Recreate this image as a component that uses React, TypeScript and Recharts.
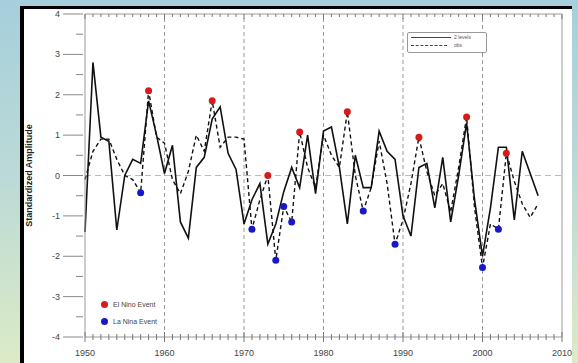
import {
  ComposedChart,
  Line,
  Scatter,
  XAxis,
  YAxis,
  ReferenceLine
} from 'recharts'

const years = [
  1950, 1951, 1952, 1953, 1954, 1955, 1956, 1957, 1958, 1959,
  1960, 1961, 1962, 1963, 1964, 1965, 1966, 1967, 1968, 1969,
  1970, 1971, 1972, 1973, 1974, 1975, 1976, 1977, 1978, 1979,
  1980, 1981, 1982, 1983, 1984, 1985, 1986, 1987, 1988, 1989,
  1990, 1991, 1992, 1993, 1994, 1995, 1996, 1997, 1998, 1999,
  2000, 2001, 2002, 2003, 2004, 2005, 2006, 2007
]

// solid line (model, 2 levels)
const solidValues = [
  -1.4, 2.8, 0.95, 0.85, -1.35, 0.0, 0.4, 0.3, 1.85, 1.0,
  0.05, 0.75, -1.15, -1.55, 0.2, 0.45, 1.4, 1.7, 0.55, 0.15,
  -1.2, -0.6, -0.2, -1.7, -1.2, -0.4, 0.2, -0.3, 1.0, -0.45,
  1.1, 1.2, 0.2, -1.2, 0.5, -0.3, -0.3, 1.1, 0.6, 0.4,
  -1.0, -1.5, 0.2, 0.3, -0.8, 0.45, -1.15, 0.0, 1.3, -0.6,
  -2.0, -0.8, 0.7, 0.7, -1.1, 0.6, 0.05, -0.5
]

// dashed line (observed)
const dashedValues = [
  -0.1, 0.6, 0.9, 0.9, 0.4, 0.0, -0.1, -0.43, 2.1, 0.95,
  0.8, -0.1, -0.45, 0.1, 1.0, 0.6, 1.85, 0.7, 0.95, 0.95,
  0.9, -1.33, -0.6, 0.0, -2.1, -0.77, -1.15, 1.08, 0.2, -0.3,
  1.0, 0.5, 0.2, 1.58, 0.0, -0.88, -0.3, 0.85, -0.2, -1.7,
  -1.1, -0.2, 0.95, 0.1, -0.5, -0.2, -0.9, 0.2, 1.45, -0.8,
  -2.28, -1.2, -1.33, 0.55, -0.14, -0.7, -1.04, -0.7
]

const elNinoYears = [1958, 1966, 1973, 1977, 1983, 1992, 1998, 2003]
const elNinoValues = [2.1, 1.85, 0.0, 1.08, 1.58, 0.95, 1.45, 0.55]

const laNinaYears = [1957, 1971, 1974, 1975, 1976, 1985, 1989, 2000, 2002]
const laNinaValues = [-0.43, -1.33, -2.1, -0.77, -1.15, -0.88, -1.7, -2.28, -1.33]

const yearTicks = Array.from({ length: 61 }, (_, i) => 1950 + i)
const decadeLines = [1960, 1970, 1980, 1990, 2000]
const yTicks = Array.from({ length: 17 }, (_, i) => -4 + i * 0.5)

const rows = years.map((year, i) => ({ year, solid: solidValues[i], dashed: dashedValues[i] }))
const elNino = elNinoYears.map((year, i) => ({ year, v: elNinoValues[i] }))
const laNina = laNinaYears.map((year, i) => ({ year, v: laNinaValues[i] }))

const FONT = '"Liberation Sans", Arial, sans-serif'
const AXIS = '#9a9a9a'

const BottomTick = ({ x, y, payload }: any) => {
  const major = payload.value % 10 === 0
  return (
    <g>
      <line x1={x} x2={x} y1={y - (major ? 5 : 3)} y2={y + (major ? 5 : 3)} stroke="#777" />
      {major && (
        <text x={x} y={y + 19} textAnchor="middle" fontSize={9} fill="#444" fontFamily={FONT}>
          {payload.value}
        </text>
      )}
    </g>
  )
}

const TopTick = ({ x, y, payload }: any) => {
  const major = payload.value % 10 === 0
  return <line x1={x} x2={x} y1={y} y2={y + (major ? 5 : 3)} stroke="#777" />
}

const LeftTick = ({ x, y, payload }: any) => {
  const major = Number.isInteger(payload.value)
  return (
    <g>
      <line x1={x - (major ? 22 : 9)} x2={x - 2} y1={y} y2={y} stroke="#888" />
      {major && (
        <text x={x - 25} y={y + 3} textAnchor="end" fontSize={9} fill="#444" fontFamily={FONT}>
          {payload.value}
        </text>
      )}
    </g>
  )
}

const RightTick = ({ x, y }: any) => <line x1={x - 9} x2={x} y1={y} y2={y} stroke="#888" />

const yLabel = (props: any) => {
  const vb = props.viewBox
  const cx = vb.x + 32
  const cy = vb.y + vb.height / 2
  return (
    <text
      x={cx}
      y={cy}
      transform={`rotate(-90 ${cx} ${cy})`}
      textAnchor="middle"
      fontSize={9}
      fontWeight="bold"
      fill="#222"
      fontFamily={FONT}
    >
      Standardized Amplitude
    </text>
  )
}

const dot = (color: string) => (p: any) => <circle cx={p.cx} cy={p.cy} r={3.5} fill={color} />

export default function App() {
  return (
    <div
      style={{
        position: 'absolute',
        left: 0,
        top: 0,
        width: 578,
        height: 363,
        overflow: 'hidden',
        background: 'linear-gradient(180deg, #a6cfdc 0%, #bcdad6 50%, #dcebc6 100%)'
      }}
    >
      {/* white panel */}
      <div
        style={{
          position: 'absolute',
          left: 20,
          top: 6,
          width: 552,
          height: 360,
          background: '#fff',
          borderTop: '3px solid #000',
          borderLeft: '4px solid #000',
          boxSizing: 'border-box'
        }}
      />

      <div style={{ position: 'absolute', left: 0, top: 0 }}>
        <ComposedChart width={578} height={363} data={rows} margin={{ top: 0, right: 0, bottom: 0, left: 0 }}>
          <XAxis
            xAxisId="b"
            type="number"
            dataKey="year"
            domain={[1950, 2010]}
            ticks={yearTicks}
            interval={0}
            height={26}
            tickSize={0}
            tickMargin={0}
            tickLine={false}
            axisLine={{ stroke: AXIS }}
            tick={<BottomTick />}
          />
          <XAxis
            xAxisId="t"
            orientation="top"
            type="number"
            dataKey="year"
            domain={[1950, 2010]}
            ticks={yearTicks}
            interval={0}
            height={14}
            tickSize={0}
            tickMargin={0}
            tickLine={false}
            axisLine={{ stroke: AXIS }}
            tick={<TopTick />}
          />
          <YAxis
            yAxisId="l"
            type="number"
            domain={[-4, 4]}
            ticks={yTicks}
            interval={0}
            width={85}
            tickSize={0}
            tickMargin={0}
            tickLine={false}
            axisLine={{ stroke: AXIS }}
            tick={<LeftTick />}
            label={yLabel}
          />
          <YAxis
            yAxisId="r"
            orientation="right"
            type="number"
            domain={[-4, 4]}
            ticks={yTicks}
            interval={0}
            width={16}
            tickSize={0}
            tickMargin={0}
            tickLine={false}
            axisLine={{ stroke: AXIS }}
            tick={<RightTick />}
          />

          {decadeLines.map((d) => (
            <ReferenceLine key={d} xAxisId="b" yAxisId="l" x={d} stroke="#999" strokeDasharray="4 3" />
          ))}
          <ReferenceLine xAxisId="b" yAxisId="l" y={0} stroke="#bbb" strokeDasharray="6 4" />

          <Line
            xAxisId="b"
            yAxisId="l"
            type="linear"
            dataKey="solid"
            stroke="#111"
            strokeWidth={1.6}
            dot={false}
            isAnimationActive={false}
          />
          <Line
            xAxisId="b"
            yAxisId="l"
            type="linear"
            dataKey="dashed"
            stroke="#111"
            strokeWidth={1.4}
            strokeDasharray="4 3"
            dot={false}
            isAnimationActive={false}
          />
          <Scatter
            xAxisId="b"
            yAxisId="l"
            data={elNino}
            dataKey="v"
            shape={dot('#d41c1c')}
            isAnimationActive={false}
          />
          <Scatter
            xAxisId="b"
            yAxisId="l"
            data={laNina}
            dataKey="v"
            shape={dot('#1818c8')}
            isAnimationActive={false}
          />
        </ComposedChart>
      </div>

      {/* line style key, top right */}
      <div
        style={{
          position: 'absolute',
          left: 407,
          top: 32,
          width: 78,
          height: 19,
          border: '1px solid #999',
          borderRadius: 2,
          fontFamily: FONT,
          fontSize: 5,
          color: '#555',
          background: '#fff'
        }}
      >
        <div style={{ position: 'absolute', left: 3, top: 4, width: 40, borderTop: '1px solid #444' }} />
        <div style={{ position: 'absolute', left: 46, top: 1 }}>2 levels</div>
        <div style={{ position: 'absolute', left: 3, top: 12, width: 36, borderTop: '1px dashed #444' }} />
        <div style={{ position: 'absolute', left: 46, top: 9 }}>obs</div>
      </div>

      {/* event key, bottom left */}
      <div style={{ position: 'absolute', left: 101, top: 299, fontFamily: FONT, fontSize: 7, color: '#444' }}>
        <div style={{ display: 'flex', alignItems: 'center', height: 10 }}>
          <span style={{ width: 7, height: 7, borderRadius: 4, background: '#d41c1c', marginRight: 5 }} />
          El Nino Event
        </div>
        <div style={{ display: 'flex', alignItems: 'center', height: 10, marginTop: 7 }}>
          <span style={{ width: 7, height: 7, borderRadius: 4, background: '#1818c8', marginRight: 5 }} />
          La Nina Event
        </div>
      </div>
    </div>
  )
}
